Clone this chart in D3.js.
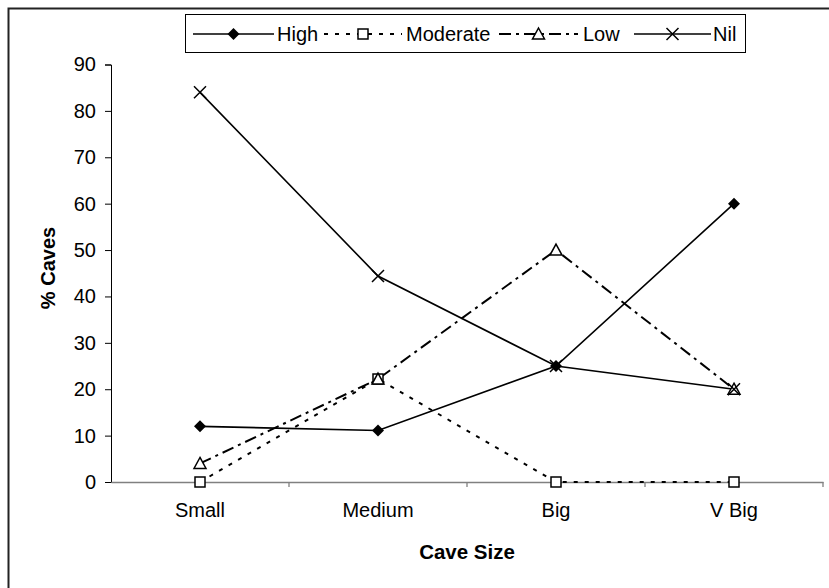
<!DOCTYPE html>
<html><head><meta charset="utf-8">
<script src="https://cdn.jsdelivr.net/npm/d3@7"></script>
<style>body{margin:0;background:#fff}svg{display:block;font-family:"Liberation Sans",Arial,sans-serif}</style>
</head><body><svg id="c" width="829" height="588"></svg>
<script>
const categories = ["Small", "Medium", "Big", "V Big"];
const seriesNames = ["High", "Moderate", "Low", "Nil"];
const high = [12, 11.1, 25, 60];
const moderate = [0, 22.2, 0, 0];
const low = [4, 22.2, 50, 20];
const nil = [84, 44.4, 25, 20];
const yTicks = [0, 10, 20, 30, 40, 50, 60, 70, 80, 90];

const series = [
  {name: seriesNames[0], values: high, dash: null, marker: "diamond"},
  {name: seriesNames[1], values: moderate, dash: "4,7", marker: "square"},
  {name: seriesNames[2], values: low, dash: "12,5,3,5", marker: "triangle"},
  {name: seriesNames[3], values: nil, dash: null, marker: "cross"}
];

const svg = d3.select("#c");
const L = 111, R = 823, T = 64.5, B = 482;
const x = d3.scaleBand().domain(categories).range([L, R]);
const y = d3.scaleLinear().domain([0, 90]).range([B, T]);

// outer frame (partially visible)
svg.append("rect").attr("x", 8.5).attr("y", 8.5).attr("width", 900).attr("height", 700)
  .attr("fill", "none").attr("stroke", "#222").attr("stroke-width", 2);

// y axis
const ya = svg.append("g").attr("transform", `translate(${L},0)`)
  .call(d3.axisLeft(y).tickValues(yTicks).tickSize(6).tickPadding(9));
ya.select(".domain").attr("stroke", "#000");
ya.selectAll(".tick line").attr("stroke", "#000");
ya.selectAll("text").attr("font-size", 20).attr("fill", "#000")
  .attr("font-family", "Liberation Sans, Arial, sans-serif");

// x axis
const xa = svg.append("g").attr("transform", `translate(0,${B})`)
  .call(d3.axisBottom(x).tickSize(0).tickPadding(21));
xa.select(".domain").attr("stroke", "#808080").attr("stroke-width", 1.3);
xa.selectAll("text").attr("font-size", 20).attr("fill", "#000")
  .attr("font-family", "Liberation Sans, Arial, sans-serif");
// category boundary ticks
const edges = categories.map(c => x(c) + x.bandwidth());
svg.append("g").selectAll("line").data(edges).join("line")
  .attr("x1", d => d).attr("x2", d => d).attr("y1", B).attr("y2", B + 5)
  .attr("stroke", "#808080").attr("stroke-width", 1.3);

// titles
svg.append("text").attr("x", (L + R) / 2).attr("y", 559).attr("text-anchor", "middle")
  .attr("font-weight", "bold").attr("font-size", 20.5).text("Cave Size");
svg.append("text").attr("transform", "translate(55,268) rotate(-90)").attr("text-anchor", "middle")
  .attr("font-weight", "bold").attr("font-size", 20).text("% Caves");

const cx = c => x(c) + x.bandwidth() / 2;

function drawMarker(g, type, px, py) {
  if (type === "diamond") {
    g.append("path").attr("d", `M${px},${py-6}L${px+6},${py}L${px},${py+6}L${px-6},${py}Z`)
      .attr("fill", "#000");
  } else if (type === "square") {
    g.append("rect").attr("x", px - 5).attr("y", py - 5).attr("width", 10).attr("height", 10)
      .attr("fill", "#fff").attr("stroke", "#000").attr("stroke-width", 1.5);
  } else if (type === "triangle") {
    g.append("path").attr("d", `M${px},${py-6}L${px+6},${py+5}L${px-6},${py+5}Z`)
      .attr("fill", "#fff").attr("stroke", "#000").attr("stroke-width", 1.5);
  } else {
    g.append("path").attr("d", `M${px-6},${py-6}L${px+6},${py+6}M${px-6},${py+6}L${px+6},${py-6}`)
      .attr("stroke", "#000").attr("stroke-width", 1.5);
  }
}

const line = d3.line().x((d, i) => cx(categories[i])).y(d => y(d));
const lg = svg.append("g");
series.forEach(s => {
  lg.append("path").attr("d", line(s.values)).attr("fill", "none").attr("stroke", "#000")
    .attr("stroke-width", s.dash ? 2 : 1.6).attr("stroke-dasharray", s.dash);
});
const mg = svg.append("g");
series.forEach(s => {
  s.values.forEach((v, i) => drawMarker(mg, s.marker, cx(categories[i]), y(v)));
});

// legend
const leg = svg.append("g");
leg.append("rect").attr("x", 185.5).attr("y", 14.5).attr("width", 560).attr("height", 38)
  .attr("fill", "#fff").attr("stroke", "#000").attr("stroke-width", 1);
const legItems = [
  {x1: 193, x2: 274, tx: 277},
  {x1: 324, x2: 402, tx: 406},
  {x1: 499, x2: 578, tx: 583},
  {x1: 634, x2: 711, tx: 713}
];
const ly = 34;
series.forEach((s, i) => {
  const it = legItems[i];
  leg.append("line").attr("x1", it.x1).attr("x2", it.x2).attr("y1", ly).attr("y2", ly)
    .attr("stroke", "#000").attr("stroke-width", s.dash ? 2 : 1.6).attr("stroke-dasharray", s.dash);
  drawMarker(leg, s.marker, (it.x1 + it.x2) / 2, ly);
  leg.append("text").attr("x", it.tx).attr("y", ly).attr("dy", "0.35em")
    .attr("font-size", 20).text(s.name);
});
</script></body></html>
